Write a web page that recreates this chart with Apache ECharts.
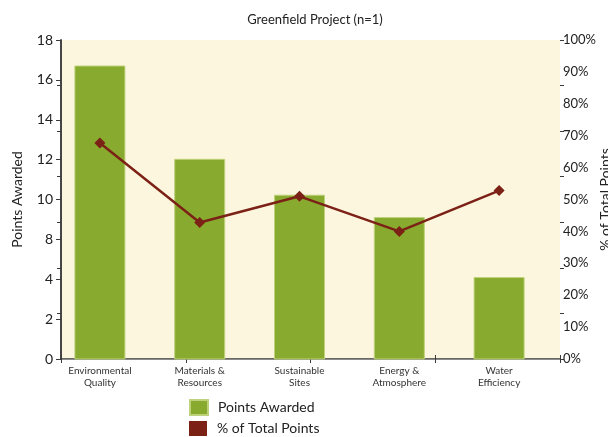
<!DOCTYPE html>
<html>
<head>
<meta charset="utf-8">
<title>Greenfield Project</title>
<script src="https://cdn.jsdelivr.net/npm/echarts@6/dist/echarts.min.js"></script>
<style>
  html, body { margin: 0; padding: 0; background: #fff; }
  #chart { width: 608px; height: 437px; }
</style>
</head>
<body>
<div id="chart"></div>
<script>
// categories
var categories = ['Environmental\nQuality', 'Materials &\nResources', 'Sustainable\nSites', 'Energy &\nAtmosphere', 'Water\nEfficiency'];
// points awarded (bars)
var pointsAwarded = [16.72, 12.04, 10.24, 9.12, 6.11];
// % of total points (line)
var pctOfTotal = [67.7, 42.8, 51.0, 40.0, 52.8];
// left axis tick labels, as printed on the original (no "6")
var leftTickLabels = ['0', '2', '4', '8', '10', '12', '14', '16', '18'];

var FONT = 'Lato';
var AXIS = '#3a3a3a';

var legendText = { fontFamily: FONT, fontSize: 14, color: '#222', padding: [0, 0, 0, 5] };

var myChart = echarts.init(document.getElementById('chart'));
myChart.setOption({
    animation: false,
    textStyle: { fontFamily: FONT },
    title: {
        text: 'Greenfield Project (n=1)',
        left: 310,
        textAlign: 'center',
        top: 8,
        textStyle: { fontFamily: FONT, fontSize: 13, fontWeight: 'normal', color: '#222' }
    },
    legend: [
        { left: 189, top: 399, icon: 'rect', itemWidth: 18, itemHeight: 15, padding: 0,
          textStyle: legendText, data: ['Points Awarded'] },
        { left: 189, top: 421, icon: 'rect', itemWidth: 18, itemHeight: 15, padding: 0,
          textStyle: legendText, data: ['% of Total Points'] }
    ],
    grid: [
        // plot frame with cream background
        { left: 61, right: 48, top: 40, bottom: 78, show: true, backgroundColor: '#fdf6df', borderWidth: 0,
          outerBoundsMode: 'none', containLabel: false },
        // grid that holds the marks
        { left: 50, right: 59, top: 40, bottom: 78, outerBoundsMode: 'none', containLabel: false }
    ],
    xAxis: [
        {
            gridIndex: 0, type: 'value', min: 0, max: 4, interval: 1, position: 'bottom',
            axisLine: { show: true, lineStyle: { color: AXIS, width: 1.5 } },
            axisTick: { show: true, inside: true, length: 4, lineStyle: { color: AXIS } },
            axisLabel: { show: false }, splitLine: { show: false }
        },
        {
            gridIndex: 0, type: 'value', min: 0, max: 4, interval: 1, position: 'bottom',
            axisLine: { show: false },
            axisTick: { show: true, length: 4, lineStyle: { color: AXIS } },
            axisLabel: { show: false }, splitLine: { show: false }
        },
        {
            gridIndex: 0, type: 'value', min: 0, max: 1, position: 'top',
            axisLine: { show: true, lineStyle: { color: '#8a8a8a', width: 1 } },
            axisTick: { show: false }, axisLabel: { show: false }, splitLine: { show: false }
        },
        {
            gridIndex: 1, type: 'category', data: categories, position: 'bottom',
            axisLine: { show: false }, axisTick: { show: false },
            axisLabel: { fontFamily: FONT, fontSize: 10, color: '#333', lineHeight: 12, margin: 6, interval: 0 }
        }
    ],
    yAxis: [
        {
            gridIndex: 0, type: 'value', min: 2, max: 18, interval: 2, position: 'left',
            name: 'Points Awarded', nameLocation: 'middle', nameGap: 37, nameRotate: 90,
            nameMoveOverlap: false,
            nameTextStyle: { fontFamily: FONT, fontSize: 14, color: '#222' },
            axisLine: { show: true, lineStyle: { color: AXIS, width: 1.5 } },
            axisTick: { show: true, length: 5, lineStyle: { color: AXIS } },
            axisLabel: {
                fontFamily: FONT, fontSize: 14, color: '#222', margin: 8,
                formatter: function (v) { return leftTickLabels[Math.round((v - 2) / 2)]; }
            },
            splitLine: { show: false }
        },
        {
            gridIndex: 0, type: 'value', min: 0, max: 100, interval: 10, position: 'right',
            name: '% of Total Points', nameLocation: 'middle', nameGap: 38, nameRotate: 90,
            nameMoveOverlap: false,
            nameTextStyle: { fontFamily: FONT, fontSize: 14, color: '#222' },
            axisLine: { show: true, lineStyle: { color: AXIS, width: 1.5 } },
            axisTick: { show: false },
            axisLabel: { fontFamily: FONT, fontSize: 13, color: '#222', margin: 3, formatter: '{value}%' },
            splitLine: { show: false }
        },
        {
            gridIndex: 0, type: 'value', min: 0, max: 7, interval: 1, position: 'right',
            axisLine: { show: false },
            axisTick: { show: true, inside: true, length: 4, lineStyle: { color: AXIS } },
            axisLabel: { show: false }, splitLine: { show: false }
        },
        {
            gridIndex: 0, type: 'value', min: 0, max: 7, interval: 1, position: 'right',
            axisLine: { show: false },
            axisTick: { show: true, length: 4, lineStyle: { color: AXIS } },
            axisLabel: { show: false }, splitLine: { show: false }
        },
        { gridIndex: 1, type: 'value', min: 2, max: 18, show: false },
        { gridIndex: 1, type: 'value', min: 0, max: 100, show: false }
    ],
    series: [
        {
            name: 'Points Awarded',
            type: 'bar',
            xAxisIndex: 3,
            yAxisIndex: 4,
            barWidth: 51,
            itemStyle: { color: '#88aa2e', borderColor: '#bdd27a', borderWidth: 1 },
            data: pointsAwarded
        },
        {
            name: '% of Total Points',
            type: 'line',
            xAxisIndex: 3,
            yAxisIndex: 5,
            symbol: 'diamond',
            symbolSize: 11,
            lineStyle: { color: '#7b2116', width: 2.5 },
            itemStyle: { color: '#7b2116' },
            data: pctOfTotal
        }
    ]
});
</script>
</body>
</html>
